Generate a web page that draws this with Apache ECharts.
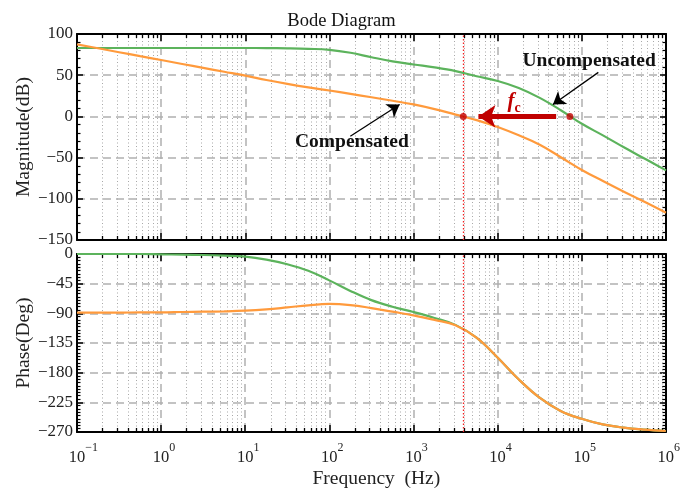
<!DOCTYPE html>
<html><head><meta charset="utf-8">
<script src="https://cdn.jsdelivr.net/npm/echarts@6/dist/echarts.min.js"></script>
<style>html,body{margin:0;padding:0;background:#fff}#c{width:683px;height:490px}</style>
</head><body><div id="c"></div>
<script>
// ---------- data ----------
const freq = [0.1, 0.178, 0.316, 0.562, 1, 1.78, 3.16, 5.62, 10, 17.8, 31.6, 56.2, 100, 178, 316, 562,
  1000, 1780, 3160, 5620, 10000, 17800, 31600, 56200, 100000, 178000, 316000, 562000, 1000000];
const magUncomp = [83, 83, 83, 83, 83, 83, 83, 83, 83, 82.9, 82.6, 82, 80.8, 77.2, 71.8, 66.8,
  63, 59.5, 55, 48.7, 43, 34.5, 22.5, 7.5, -9, -23, -37.5, -51.5, -65.5];
const magComp = [87.5, 82.7, 77.9, 73.1, 68.4, 63.6, 58.9, 54.2, 49.5, 44.2, 39.5, 35.2, 31.4, 27.3, 23.2, 19,
  14.5, 8.8, 2.2, -4.5, -12.9, -23, -34.5, -49.5, -65, -78.5, -91.5, -104, -117];
const phaseUncomp = [0, 0, 0, 0, -0.5, -1, -1.5, -2.5, -4, -8.5, -15.5, -25.5, -40, -56, -70, -80,
  -88, -97, -107.5, -127, -157, -190, -218, -238, -250, -258.5, -263.5, -266.5, -268.5];
const phaseComp = [-89, -89, -89, -88.5, -88.5, -88, -87.5, -87, -86, -84, -81, -77.8, -75.8, -77.5, -82, -87.5,
  -93, -100, -108, -127, -157, -190, -218, -238, -250, -258.5, -263.5, -266.5, -268.5];
const crossoverFreqs = [3900, 72000];          // f_c compensated, f_c uncompensated (0 dB)
const fcArrow = [49500, 5900];                 // red arrow tail -> head (Hz, at 0 dB)
const compArrow = [[177, -24], [683, 14.5]];
const uncompArrow = [[157000, 53.4], [45300, 14.5]];
const compLabelPos = [185, -31];
const uncompLabelPos = [122000, 67];
const fcLabelPos = [15700, 15.7];
const decadeExponents = [-1, 0, 1, 2, 3, 4, 5, 6];
const minorMultipliers = [2, 3, 4, 5, 6, 7, 8, 9];
const magTicks = [-150, -100, -50, 0, 50, 100];
const phaseTicks = [-270, -225, -180, -135, -90, -45, 0];
const titleText = 'Bode Diagram';
const magName = 'Magnitude(dB)';
const phaseName = 'Phase(Deg)';
const freqName = 'Frequency  (Hz)';

// ---------- styling ----------
const SERIF = "'Liberation Serif','Times New Roman',serif";
const GREEN = '#5cb35c', ORANGE = '#ff9a3c', RED = '#c00000';
const fMin = Math.pow(10, decadeExponents[0]);
const fMax = Math.pow(10, decadeExponents[decadeExponents.length - 1]);
const minorFreqs = [];
decadeExponents.slice(0, -1).forEach(e => minorMultipliers.forEach(m => minorFreqs.push(m * Math.pow(10, e))));

const minus = v => String(v).replace('-', '\u2212');

function xAx(grid, pos, labels, split) {
  return {
    type: 'log', logBase: 10, min: fMin, max: fMax, gridIndex: grid, position: pos,
    axisLine: { show: true, onZero: false, lineStyle: { color: '#000', width: 2 } },
    axisTick: { show: true, inside: true, length: 7, lineStyle: { color: '#000', width: 1.5 } },
    minorTick: { show: false },
    splitLine: { show: split, lineStyle: { color: '#b0b0b0', width: 1.5, type: [8, 5] } },
    axisLabel: labels ? {
      show: true, margin: 10, fontFamily: SERIF, color: '#222',
      formatter: v => { const e = minus(Math.round(Math.log10(v))); return '{h|' + e + '}{b|10}{s|' + e + '}'; },
      rich: {
        b: { fontSize: 16.5, fontFamily: SERIF, color: '#222', lineHeight: 24, verticalAlign: 'bottom' },
        s: { fontSize: 12, fontFamily: SERIF, color: '#222', lineHeight: 13, verticalAlign: 'top' },
        h: { fontSize: 12, fontFamily: SERIF, color: 'rgba(0,0,0,0)', lineHeight: 13, verticalAlign: 'top' }
      }
    } : { show: false },
    name: labels ? freqName : '', nameLocation: 'middle', nameGap: 37,
    nameTextStyle: { fontFamily: SERIF, fontSize: 19.5, color: '#222', padding: [0, 0, 0, 10] }
  };
}
function yAx(grid, pos, ticks, interval, minorSplit, name, labels, split) {
  return {
    type: 'value', gridIndex: grid, position: pos, min: ticks[0], max: ticks[ticks.length - 1], interval: interval,
    axisLine: { show: true, onZero: false, lineStyle: { color: '#000', width: 2 } },
    axisTick: { show: true, inside: true, length: 6, lineStyle: { color: '#000', width: 1.5 } },
    minorTick: { show: true, splitNumber: minorSplit, length: 3.5, lineStyle: { color: '#000', width: 1.2 } },
    splitLine: { show: split, lineStyle: { color: '#b0b0b0', width: 1.5, type: [8, 5] } },
    axisLabel: labels ? { show: true, margin: 4, fontFamily: SERIF, fontSize: 17, color: '#222', formatter: v => minus(v) } : { show: false },
    name: labels ? name : '', nameLocation: 'middle', nameGap: 43, nameMoveOverlap: false,
    nameTextStyle: { fontFamily: SERIF, fontSize: 19.5, color: '#222' }
  };
}
function minorRender(yMin, yMax) {
  return function (params, api) {
    const f = api.value(0);
    const pT = api.coord([f, yMax]), pB = api.coord([f, yMin]);
    const x = Math.round(pT[0]) + 0.5;
    return { type: 'group', children: [
      { type: 'line', shape: { x1: x, y1: pT[1], x2: x, y2: pB[1] }, style: { stroke: '#a8a8a8', lineWidth: 1, lineDash: [1, 2.5] }, z2: 0 },
      { type: 'line', shape: { x1: x, y1: pT[1], x2: x, y2: pT[1] + 4 }, style: { stroke: '#000', lineWidth: 1.3 } },
      { type: 'line', shape: { x1: x, y1: pB[1], x2: x, y2: pB[1] - 4 }, style: { stroke: '#000', lineWidth: 1.3 } }
    ] };
  };
}
const zip = (a, b) => a.map((v, i) => [v, b[i]]);
const lineSeries = (xi, yi, ys, color, z) => ({
  type: 'line', xAxisIndex: xi, yAxisIndex: yi, data: zip(freq, ys), showSymbol: false, smooth: 0.4,
  lineStyle: { color: color, width: 2.2 }, itemStyle: { color: color }, z: z, silent: true
});
const textPoint = (pos, text, extra) => ({
  coord: pos, symbol: 'circle', symbolSize: 1, itemStyle: { color: 'rgba(0,0,0,0)' },
  label: Object.assign({ show: true, position: 'inside', formatter: text, fontFamily: SERIF, fontSize: 19.5, fontWeight: 'bold', color: '#111' }, extra || {})
});
const redVLine = {
  silent: true, symbol: ['none', 'none'], label: { show: false }, animation: false,
  lineStyle: { color: '#f02020', width: 1.3, type: [1.5, 2], opacity: 1 }, data: [{ xAxis: crossoverFreqs[0] }]
};

const option = {
  animation: false,
  backgroundColor: '#fff',
  title: { text: titleText, left: 'center', top: 7, textStyle: { fontFamily: SERIF, fontSize: 18.5, fontWeight: 'normal', color: '#111' } },
  grid: [
    { left: 77, top: 34, width: 589, height: 206 },
    { left: 77, top: 254, width: 589, height: 178 }
  ],
  xAxis: [xAx(0, 'bottom', false, true), xAx(0, 'top', false, false), xAx(1, 'bottom', true, true), xAx(1, 'top', false, false)],
  yAxis: [
    yAx(0, 'left', magTicks, 50, 5, magName, true, true), yAx(0, 'right', magTicks, 50, 5, '', false, false),
    yAx(1, 'left', phaseTicks, 45, 9, phaseName, true, true), yAx(1, 'right', phaseTicks, 45, 9, '', false, false)
  ],
  series: [
    { type: 'custom', xAxisIndex: 0, yAxisIndex: 0, data: minorFreqs.map(f => [f]), renderItem: minorRender(magTicks[0], magTicks[magTicks.length - 1]), silent: true, z: 1, clip: false },
    { type: 'custom', xAxisIndex: 2, yAxisIndex: 2, data: minorFreqs.map(f => [f]), renderItem: minorRender(phaseTicks[0], phaseTicks[phaseTicks.length - 1]), silent: true, z: 1, clip: false },
    { type: 'scatter', xAxisIndex: 0, yAxisIndex: 0, data: [], silent: true, z: 2, markLine: redVLine },
    { type: 'scatter', xAxisIndex: 2, yAxisIndex: 2, data: [], silent: true, z: 2, markLine: redVLine },
    lineSeries(0, 0, magUncomp, GREEN, 3),
    lineSeries(0, 0, magComp, ORANGE, 4),
    lineSeries(2, 2, phaseUncomp, GREEN, 3),
    lineSeries(2, 2, phaseComp, ORANGE, 4),
    { type: 'scatter', xAxisIndex: 0, yAxisIndex: 0, data: [], silent: true, z: 5,
      markLine: { silent: true, symbol: ['none', 'arrow'], symbolSize: 17, label: { show: false }, animation: false,
        lineStyle: { color: RED, width: 5, type: 'solid' }, data: [[{ coord: [fcArrow[0], 0] }, { coord: [fcArrow[1], 0] }]] }
    },
    { // crossover dots
      type: 'scatter', xAxisIndex: 0, yAxisIndex: 0, data: crossoverFreqs.map(f => [f, 0]), symbolSize: 7,
      itemStyle: { color: RED }, z: 6, silent: true
    },
    { type: 'scatter', xAxisIndex: 0, yAxisIndex: 0, data: [], silent: true, z: 7,
      markLine: { silent: true, symbol: ['none', 'arrow'], symbolSize: 12, label: { show: false }, animation: false,
        lineStyle: { color: '#000', width: 1.3, type: 'solid' },
        data: [[{ coord: compArrow[0] }, { coord: compArrow[1] }], [{ coord: uncompArrow[0] }, { coord: uncompArrow[1] }]] },
      markPoint: { silent: true, animation: false, data: [
        textPoint(compLabelPos, 'Compensated'),
        textPoint(uncompLabelPos, 'Uncompensated'),
        textPoint(fcLabelPos, '{f|f}{c|c}', { rich: {
          f: { fontFamily: SERIF, fontSize: 21, fontStyle: 'italic', color: RED, lineHeight: 24, verticalAlign: 'top' },
          c: { fontFamily: SERIF, fontSize: 14, color: RED, lineHeight: 14, verticalAlign: 'bottom' } } })
      ] }
    }
  ]
};
const chart = echarts.init(document.getElementById('c'), null, { renderer: 'canvas' });
chart.setOption(option);
</script></body></html>
